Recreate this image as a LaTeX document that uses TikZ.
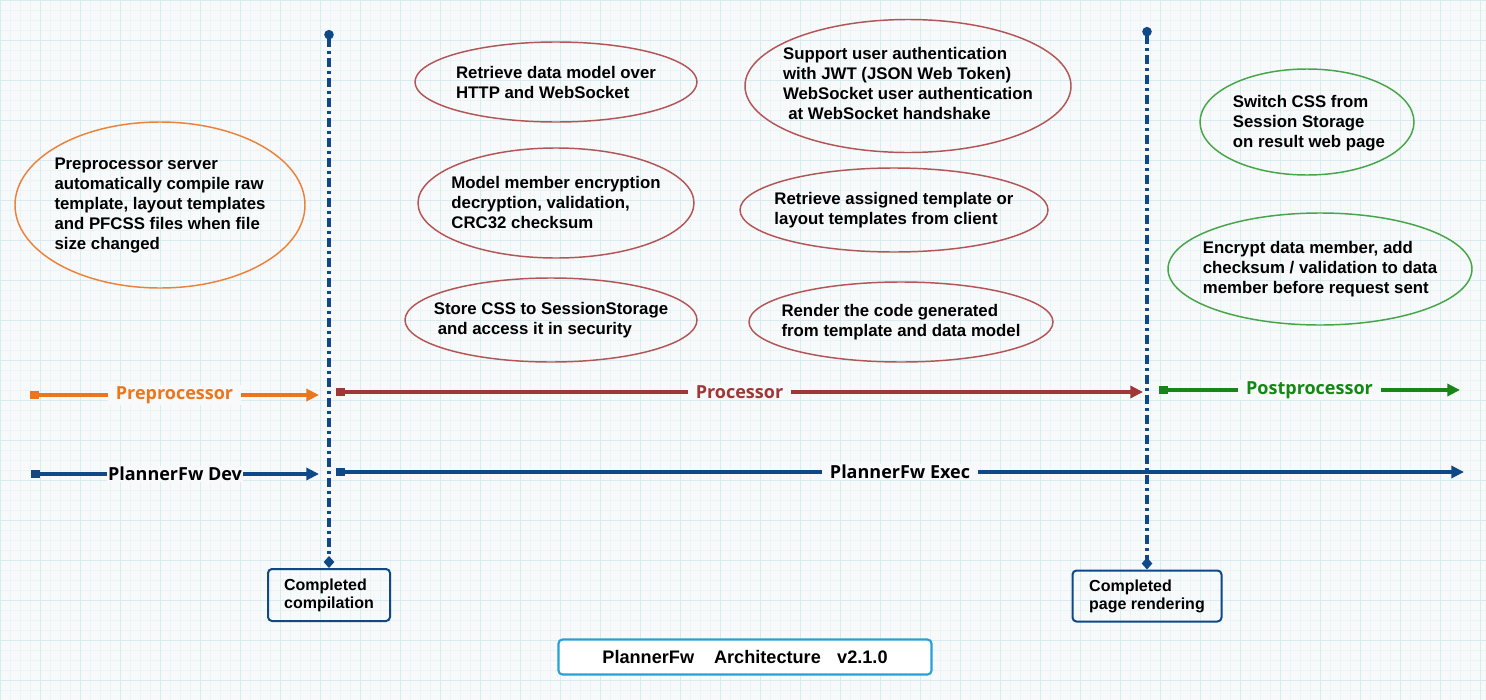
\documentclass[tikz,border=0pt]{standalone}
\usepackage{fontspec}
\setmainfont{Liberation Sans}
\newfontfamily\segoe{Open Sans}
\usetikzlibrary{shapes.geometric,arrows.meta}
\definecolor{bg}{RGB}{247,249,250}
\definecolor{gridminor}{RGB}{233,244,247}
\definecolor{gridmajor}{RGB}{216,235,241}
\definecolor{navy}{RGB}{14,72,135}
\definecolor{preorange}{RGB}{234,118,30}
\definecolor{procred}{RGB}{160,55,55}
\definecolor{postgreen}{RGB}{20,135,20}
\definecolor{preline}{RGB}{235,130,55}
\definecolor{procline}{RGB}{180,85,85}
\definecolor{postline}{RGB}{70,165,70}
\definecolor{titleblue}{RGB}{40,160,215}
\tikzset{
  bubble/.style={ellipse,draw=#1,line width=1.1pt,inner sep=0pt},
  btext/.style={align=left,inner sep=0pt,font=\bfseries\fontsize{12.6}{15}\selectfont},
  phase/.style={draw=#1,line width=2.4pt,arrows={Square[length=6.5pt,width=6.5pt]-Triangle[length=9.5pt,width=9pt]}},
  plabel/.style={fill=bg,inner xsep=6pt,inner ysep=1pt,font=\segoe\bfseries\fontsize{13.5}{16}\selectfont},
  mline/.style={draw=navy,line width=2.4pt,dash pattern=on 7pt off 3pt on 2pt off 3pt,
    arrows={Circle[length=7pt,width=7pt]-Diamond[length=9pt,width=8pt]}},
  donebox/.style={draw=navy,line width=1.5pt,rounded corners=3pt,align=left,inner sep=0pt,
    font=\bfseries\fontsize{12}{13.5}\selectfont},
}
\begin{document}
\begin{tikzpicture}[x=0.75pt,y=-0.75pt]
\useasboundingbox (0,0) rectangle (1486,700);
\fill[bg] (0,0) rectangle (1486,700);
\draw[gridminor,line width=0.4pt,step=7.5pt] (0,0) grid (1486,700);
\draw[gridmajor,line width=0.5pt,step=30pt] (0,0) grid (1486,700);
% preprocessor
\node[bubble=preline,minimum width=290*0.75pt,minimum height=166*0.75pt] (pre) at (160,205) {};
\node[btext] (pret) at (pre) {Preprocessor server\\automatically compile raw\\template, layout templates\\and PFCSS files when file\\size changed};
% processor
\node[bubble=procline,minimum width=282*0.75pt,minimum height=80*0.75pt] (proc1) at (556,82) {};
\node[btext] (proc1t) at (proc1) {Retrieve data model over\\HTTP and WebSocket};
\node[bubble=procline,minimum width=276*0.75pt,minimum height=110*0.75pt] (proc2) at (556,203) {};
\node[btext] (proc2t) at (proc2) {Model member encryption\\decryption, validation,\\CRC32 checksum};
\node[bubble=procline,minimum width=292*0.75pt,minimum height=84*0.75pt] (proc3) at (551,320) {};
\node[btext] (proc3t) at (proc3) {Store CSS to SessionStorage\\\hspace{3pt}and access it in security};
\node[bubble=procline,minimum width=326*0.75pt,minimum height=133*0.75pt] (proc4) at (908,86) {};
\node[btext] (proc4t) at (908,83) {Support user authentication\\with JWT (JSON Web Token)\\WebSocket user authentication\\\hspace{4pt}at WebSocket handshake};
\node[bubble=procline,minimum width=308*0.75pt,minimum height=84*0.75pt] (proc5) at (894,210) {};
\node[btext] (proc5t) at (proc5) {Retrieve assigned template or\\layout templates from client};
\node[bubble=procline,minimum width=304*0.75pt,minimum height=80*0.75pt] (proc6) at (901,322) {};
\node[btext] (proc6t) at (proc6) {Render the code generated\\from template and data model};
% postprocessor
\node[bubble=postline,minimum width=214*0.75pt,minimum height=106*0.75pt] (post1) at (1307,122) {};
\node[btext] (post1t) at (1309,123) {Switch CSS from\\Session Storage\\on result web page};
\node[bubble=postline,minimum width=304*0.75pt,minimum height=112*0.75pt] (post2) at (1320,269) {};
\node[btext] (post2t) at (post2) {Encrypt data member, add\\checksum / validation to data\\member before request sent};
% milestones
\node[donebox,minimum width=122*0.75pt,minimum height=52*0.75pt] (done1) at (329,595) {Completed\\compilation};
\node[donebox,minimum width=149*0.75pt,minimum height=51*0.75pt] (done2) at (1147,596) {Completed\\page rendering};
\coordinate (top1) at (329,30);
\coordinate (top2) at (1147,27);
\draw[mline] (top1) -- (done1.north);
\draw[mline] (top2) -- (done2.north);
% phases
\coordinate (preS) at (30,395);
\coordinate (preE) at (319,395);
\coordinate (procS) at (336,392);
\coordinate (procE) at (1143,392);
\coordinate (postS) at (1159,390);
\coordinate (postE) at (1460,390);
\coordinate (devS) at (31,474);
\coordinate (devE) at (319,474);
\coordinate (execS) at (336,472);
\coordinate (execE) at (1464,472);
\draw[phase=preorange] (preS) -- node[plabel,text=preorange] (prel) {Preprocessor} (preE);
\draw[phase=procred] (procS) -- node[plabel,text=procred] (procl) {Processor} (procE);
\draw[phase=postgreen] (postS) -- node[plabel,text=postgreen] (postl) {Postprocessor} (postE);
\draw[phase=navy] (devS) -- node[plabel,inner xsep=1pt] (devl) {PlannerFw Dev} (devE);
\draw[phase=navy] (execS) -- node[plabel] (execl) {PlannerFw Exec} (execE);
% title
\node[draw=titleblue,fill=white,line width=1.6pt,rounded corners=3pt,minimum width=373*0.75pt,minimum height=35*0.75pt,
  font=\bfseries\fontsize{13.6}{16}\selectfont] (title) at (745,657) {PlannerFw\hspace{1.1em}Architecture\hspace{0.9em}v2.1.0};
\end{tikzpicture}
\end{document}
